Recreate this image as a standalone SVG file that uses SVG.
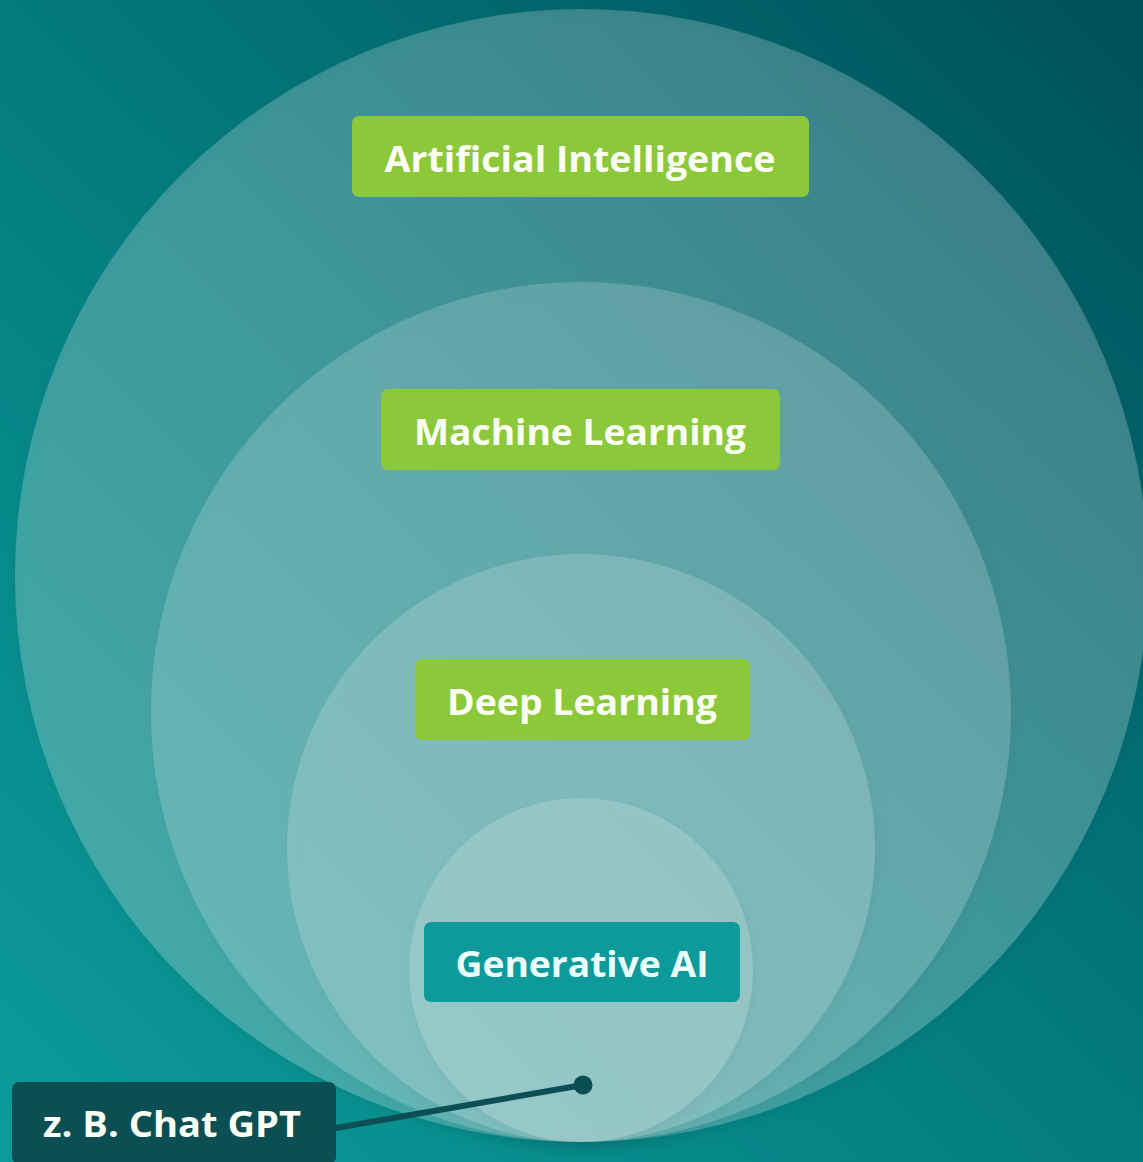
<svg xmlns="http://www.w3.org/2000/svg" width="1143" height="1162" viewBox="0 0 1143 1162">
  <defs>
    <linearGradient id="bg" x1="0" y1="1162" x2="1143" y2="0" gradientUnits="userSpaceOnUse">
      <stop offset="0" stop-color="#0c9c9a"/>
      <stop offset="0.5" stop-color="#037b7e"/>
      <stop offset="1" stop-color="#00505a"/>
    </linearGradient>
    <filter id="sh" x="-10%" y="-10%" width="120%" height="120%">
      <feDropShadow dx="2" dy="5" stdDeviation="6" flood-color="#00383c" flood-opacity="0.28"/>
    </filter>
    <style>
      .ring { fill: #ffffff; fill-opacity: 0.17; filter: url(#sh); }
      .outer { fill-opacity: 0.21; }
      .green { fill: #8cc93a; }
      .lbl { font-family: "Open Sans", "DejaVu Sans", sans-serif; font-weight: 700; fill: #fbfff4; text-anchor: middle; }
    </style>
  </defs>
  <rect x="0" y="0" width="1143" height="1162" fill="url(#bg)"/>

  <g id="node-ai">
    <circle class="ring outer" cx="581.5" cy="575.5" r="566.5"/>
    <rect class="green" x="352" y="116" width="457" height="81" rx="7"/>
    <text class="lbl" x="580" y="172" font-size="35" textLength="391" lengthAdjust="spacingAndGlyphs">Artificial Intelligence</text>
  </g>
  <g id="node-ml">
    <circle class="ring" cx="581" cy="712" r="430"/>
    <rect class="green" x="381" y="389" width="399" height="81" rx="7"/>
    <text class="lbl" x="580" y="445" font-size="35" textLength="332" lengthAdjust="spacingAndGlyphs">Machine Learning</text>
  </g>
  <g id="node-dl">
    <circle class="ring" cx="581" cy="848" r="294"/>
    <rect class="green" x="415" y="659" width="335" height="81" rx="7"/>
    <text class="lbl" x="582" y="715" font-size="35" textLength="270" lengthAdjust="spacingAndGlyphs">Deep Learning</text>
  </g>
  <g id="node-genai">
    <circle class="ring" cx="581" cy="970" r="172"/>
    <rect x="424" y="922" width="316" height="80" rx="7" fill="#0e9a9a"/>
    <text class="lbl" x="582" y="977" font-size="35" textLength="253" lengthAdjust="spacingAndGlyphs" style="fill:#ecffff">Generative AI</text>
  </g>

  <g id="connectors">
    <line x1="330" y1="1129" x2="583" y2="1085" stroke="#0b4f55" stroke-width="6" stroke-linecap="round"/>
    <circle cx="583" cy="1085" r="9.5" fill="#0b4f55"/>
  </g>

  <g id="node-chatgpt">
    <rect x="12" y="1082" width="324" height="82" rx="7" fill="#0b4f55"/>
    <text class="lbl" x="172" y="1137" font-size="35" textLength="258" lengthAdjust="spacingAndGlyphs">z. B. Chat GPT</text>
  </g>
</svg>
